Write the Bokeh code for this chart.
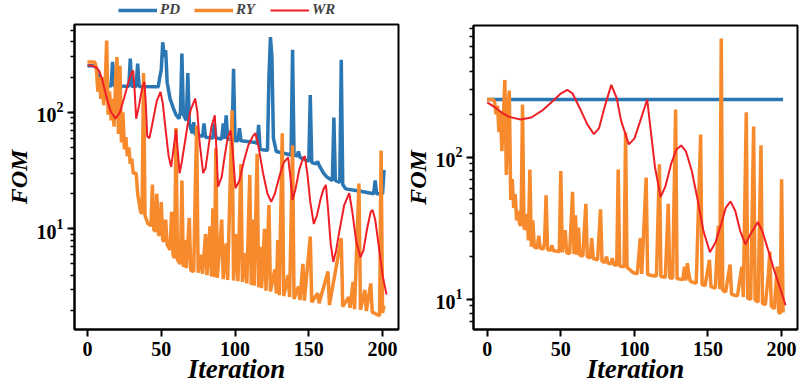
from bokeh.plotting import figure
from bokeh.models import Range1d, Legend, LegendItem, FixedTicker
from bokeh.layouts import row, column
from bokeh.embed import file_html
from bokeh.resources import INLINE

# ---------------- data ----------------
x_ticks = [0, 50, 100, 150, 200]
series_names = ["PD", "RY", "WR"]

# left panel
pd_l_x = [0, 5, 7, 9, 12, 13, 14, 16, 17, 18, 28, 29, 30, 33, 34, 35, 48, 49, 50, 51, 52, 53, 54, 56, 58,
          60, 62, 63, 64, 65, 67, 68, 69, 71, 72, 73, 74, 78, 79, 80, 85, 86, 87, 91, 92, 93, 94, 95, 98,
          99, 100, 102, 103, 104, 114, 115, 116, 117, 122, 123, 124, 125, 126, 128, 138, 139, 140, 142,
          143, 144, 150, 151, 152, 155, 156, 157, 160, 161, 162, 166, 167, 168, 171, 172, 173, 175, 185,
          194, 195, 196, 200, 201]
pd_l_y = [250, 250, 225, 170, 168, 185, 168, 168, 270, 168, 167, 288, 167, 166, 261, 166, 165, 200, 230,
          398, 300, 340, 180, 130, 110, 95, 88, 100, 318, 95, 85, 217, 80, 66, 82, 65, 64, 62, 80, 61,
          60, 80, 60, 59, 80, 59, 94, 59, 58, 236, 57, 57, 73, 57, 55, 54, 78, 48, 47, 200, 440, 300, 60,
          46, 43, 343, 43, 42, 46, 41, 38, 140, 37, 36, 38, 35, 30, 29, 28, 26, 90, 26, 25, 282, 24, 22,
          21, 20, 26, 20, 20, 32]

ry_l_x = [0, 5, 6, 7, 8, 9, 10, 11, 12, 13, 14, 15, 16, 17, 18, 19, 20, 21, 22, 23, 24, 25, 26, 27, 28,
          29, 30, 31, 33, 34, 36, 37, 38, 39, 41, 42, 43, 44, 45, 46, 47, 48, 49, 50, 51, 52, 53, 54, 56,
          57, 58, 59, 60, 61, 63, 64, 65, 66, 67, 69, 70, 72, 73, 74, 75, 77, 78, 80, 81, 83, 84, 85, 86,
          87, 88, 91, 92, 94, 95, 98, 99, 101, 102, 104, 105, 107, 108, 110, 111, 112, 113, 115, 116,
          117, 118, 120, 121, 123, 124, 127, 128, 129, 130, 132, 133, 136, 137, 139, 140, 143, 144, 146,
          147, 151, 152, 156, 157, 163, 164, 172, 173, 177, 178, 180, 181, 184, 185, 188, 189, 192, 193,
          196, 198, 199, 200, 201]
ry_l_y = [269, 269, 240, 150, 200, 130, 200, 115, 170, 412, 95, 150, 85, 130, 75, 180, 297, 65, 250, 55,
          100, 48, 61, 42, 50, 36, 40, 30, 30, 20, 14, 13.5, 217, 13, 11, 11, 10.5, 24, 9.8, 9.5, 20, 9,
          8.8, 17, 8, 7.8, 12, 7.3, 6.6, 14, 6, 5.6, 73, 5.4, 5, 26, 4.7, 8, 4.6, 12.4, 4.4, 4.3, 20, 77,
          4.2, 6, 4.1, 9, 4.0, 10.5, 3.9, 15, 3.85, 49, 3.8, 12, 3.7, 7.5, 3.65, 104, 3.6, 9, 3.55, 36,
          3.5, 6.2, 3.4, 29, 3.3, 12, 3.25, 44, 3.15, 7, 3.1, 10, 2.95, 16, 2.9, 4.5, 2.8, 8, 2.7, 66,
          2.65, 4, 2.6, 52, 2.5, 3.2, 2.45, 5, 2.42, 8.6, 2.35, 2.8, 2.3, 4.3, 2.22, 8.3, 2.15, 2.6, 2.1,
          3.5, 2.05, 24.5, 2.02, 3, 1.98, 3.4, 1.93, 1.85, 1.8, 47, 1.9, 2.2]

wr_l_x = [0, 3, 6, 8, 10, 12, 14, 16, 19, 22, 25, 28, 30, 31, 32, 33, 35, 37, 38.6, 39.5, 40.5, 42, 44,
          47, 49.5, 51, 53, 55, 56.7, 58.5, 60, 61, 62.4, 64, 66, 68, 70, 73, 74.5, 76, 78.4, 80, 82, 84,
          86.3, 87.3, 88.5, 91, 93, 95, 97, 98.5, 100.3, 103, 106, 109, 112, 113.8, 116, 119, 122, 124.5,
          127, 130, 133, 136, 137.5, 139, 141, 143.5, 146, 147.3, 149, 151, 153.4, 155.5, 158, 160, 161.6,
          163, 164.8, 166.6, 168.5, 171, 174, 177.4, 179.5, 182, 185, 187, 189.5, 192, 193.2, 195, 197.5,
          200, 202.7]
wr_l_y = [252, 250, 242, 225, 190, 150, 120, 100, 88, 100, 135, 185, 220, 228, 150, 88, 115, 160, 182,
          120, 62, 60, 80, 125, 149, 120, 70, 42, 34, 50, 71, 50, 30, 38, 55, 80, 105, 131, 100, 55, 30,
          33, 50, 75, 94, 50, 23, 28, 42, 60, 70, 45, 22.3, 26, 38, 52, 62, 66, 50, 30, 20, 17, 20, 28,
          37, 41, 28, 17.7, 22, 32, 40, 42, 30, 17, 11, 13, 18, 22, 23.8, 15, 7.5, 5.2, 6.5, 10, 16, 20.2,
          14, 8, 5.7, 6.5, 10, 14, 14.5, 12, 7, 4, 2.73]

# right panel
pd_r_x = [0, 201]
pd_r_y = [254, 254]

ry_r_x = [0, 4, 5, 6, 7, 8, 9, 10, 11, 12, 13, 14, 15, 16, 17, 18, 19, 20, 21, 22, 23, 24, 25, 26, 27,
          28, 29, 30, 31, 32, 34, 35, 36, 38, 39, 40, 41, 43, 44, 45, 48, 49, 50, 51, 53, 54, 56, 58, 59,
          60, 61, 62, 63, 65, 67, 68, 70, 71, 72, 75, 77, 78, 80, 81, 82, 84, 85, 86, 88, 89, 90, 91, 93,
          94, 95, 96, 98, 100, 102, 104, 105, 108, 109, 111, 113, 115, 117, 118, 121, 123, 124, 126, 128,
          129, 131, 133, 134, 135, 136, 137, 138, 140, 142, 145, 146, 148, 151, 152, 155, 157, 158, 159,
          160, 162, 165, 166, 168, 170, 173, 174, 176, 177, 179, 181, 182, 184, 186, 187, 189, 191, 192,
          193, 195, 197, 198, 199, 200, 201]
ry_r_y = [254, 254, 245, 200, 230, 150, 210, 110, 190, 349, 75, 200, 294, 50, 70, 44, 55, 36, 42, 34,
          33, 234, 32, 31, 40, 26, 82, 23.5, 36, 23.3, 23, 28, 23, 22.6, 25, 54, 22.4, 22.2, 24, 22, 21.8,
          21.6, 80, 21.5, 30.7, 21.3, 21, 57, 20.8, 39, 20.6, 32, 20.4, 20.2, 47, 20, 19.6, 27, 19.4, 19,
          43, 18.6, 18.2, 20, 18, 17.8, 19.5, 17.6, 17.4, 82, 17.2, 17.1, 17, 149, 16.8, 16.5, 15.8, 15.3,
          15.2, 27, 15.1, 72, 15, 14.8, 14.7, 14.6, 89, 14.5, 14.3, 47, 14.2, 14.1, 216, 14, 13.9, 13.8,
          17, 13.6, 18, 15, 13.4, 13.2, 13, 144, 12.7, 12.5, 19, 12.3, 12, 33, 11.8, 681, 11.6, 11.3, 17.6,
          10.9, 10.7, 10.6, 17, 10.4, 207, 10.2, 10, 164, 9.9, 9.6, 121, 9.4, 9.2, 15, 21.7, 9, 8.6, 17,
          8.2, 7.9, 70, 8.1]

wr_r_x = [0, 5, 10, 15, 22.6, 30, 38, 45, 50, 54.4, 58, 63, 68, 72.5, 76, 80, 84.3, 88, 91, 96.2, 100,
          104, 108.7, 111, 114, 117.8, 121, 125, 128.5, 131.8, 135, 139, 143, 147, 151.3, 155, 159, 162,
          165.3, 168.5, 172, 175.5, 179, 183.9, 187, 191, 195, 199, 202.7]
wr_r_y = [243, 225, 205, 192, 184, 190, 215, 250, 280, 297, 280, 220, 170, 145, 160, 230, 322, 260, 180,
          123, 135, 180, 254, 157, 85, 52.5, 62, 90, 113, 121, 110, 80, 50, 30, 21.5, 25, 34, 44, 48.9,
          42, 30, 24.4, 29, 35, 30, 22, 16, 12, 9.1]

# ---------------- styling ----------------
C_PD = "#2a77b4"
C_RY = "#f68a2c"
C_WR = "#ee1f26"
FONT = "Liberation Serif"
FIG_H = 386
LEG_H = 22
W_PD, W_RY, W_WR = 3.5, 3.5, 2


def make_fig(x_rng, y_rng, width, height, bl, br, bt, bb):
    p = figure(width=width, height=height, x_range=Range1d(*x_rng), y_range=Range1d(*y_rng),
               y_axis_type="log", output_backend="svg", toolbar_location=None,
               min_border_left=bl, min_border_right=br, min_border_top=bt, min_border_bottom=bb)
    p.xgrid.visible = False
    p.ygrid.visible = False
    p.outline_line_color = "black"
    p.outline_line_width = 2
    p.background_fill_color = "white"
    p.border_fill_color = "white"

    p.xaxis.ticker = FixedTicker(ticks=x_ticks)
    p.xaxis.minor_tick_line_color = None
    for ax in (p.xaxis, p.yaxis):
        ax.axis_line_width = 2
        ax.axis_line_color = "black"
        ax.major_tick_line_width = 2
        ax.major_tick_in = 0
        ax.major_tick_out = 7
        ax.major_label_text_font = FONT
        ax.major_label_text_font_style = "bold"
        ax.major_label_text_font_size = "20px"
        ax.major_label_text_color = "black"
        ax.axis_label_text_font = FONT
        ax.axis_label_text_font_style = "bold italic"
        ax.axis_label_text_color = "black"
    p.yaxis.minor_tick_line_width = 1.5
    p.yaxis.minor_tick_in = 0
    p.yaxis.minor_tick_out = 4
    p.xaxis.axis_label = "Iteration"
    p.xaxis.axis_label_text_font_size = "27px"
    p.xaxis.major_label_standoff = 5
    p.xaxis.axis_label_standoff = -5
    p.yaxis.axis_label = "FOM"
    p.yaxis.axis_label_text_font_size = "24px"
    p.yaxis.major_label_standoff = 4
    p.yaxis.axis_label_standoff = 2
    return p


# legend strip above the left panel (series drawn outside its visible range,
# only their legend glyphs show)
leg_fig = figure(width=400, height=LEG_H, x_range=Range1d(-8.8, 210.8), y_range=Range1d(-2, -1),
                 output_backend="svg", toolbar_location=None,
                 x_axis_location=None, y_axis_location=None, min_border=0)
leg_fig.xgrid.visible = False
leg_fig.ygrid.visible = False
leg_fig.outline_line_color = None
lg_pd = leg_fig.line(pd_l_x, pd_l_y, line_color=C_PD, line_width=W_PD)
lg_ry = leg_fig.line(ry_l_x, ry_l_y, line_color=C_RY, line_width=W_RY)
lg_wr = leg_fig.line(wr_l_x, wr_l_y, line_color=C_WR, line_width=W_WR)
legend = Legend(items=[LegendItem(label=series_names[0], renderers=[lg_pd]),
                       LegendItem(label=series_names[1], renderers=[lg_ry]),
                       LegendItem(label=series_names[2], renderers=[lg_wr])],
                orientation="horizontal", location=(44, 4))
legend.label_text_font = FONT
legend.label_text_font_style = "bold italic"
legend.label_text_font_size = "15px"
legend.glyph_width = 39
legend.glyph_height = 14
legend.label_height = 14
legend.label_standoff = 3
legend.spacing = 14
legend.padding = 0
legend.margin = 0
legend.border_line_color = None
legend.background_fill_alpha = 0
leg_fig.add_layout(legend)

left = make_fig((-8.8, 210.8), (1.37, 565), 400, FIG_H - LEG_H, 74, 2, 2, 56)
left.line(pd_l_x, pd_l_y, line_color=C_PD, line_width=W_PD)
left.line(ry_l_x, ry_l_y, line_color=C_RY, line_width=W_RY)
left.line(wr_l_x, wr_l_y, line_color=C_WR, line_width=W_WR)

right = make_fig((-9.3, 210.8), (6.15, 842), 400, FIG_H, 73, 3, 25, 54)
right.line(pd_r_x, pd_r_y, line_color=C_PD, line_width=W_PD)
right.line(ry_r_x, ry_r_y, line_color=C_RY, line_width=W_RY)
right.line(wr_r_x, wr_r_y, line_color=C_WR, line_width=W_WR)

layout = row(column(leg_fig, left, spacing=0), right, spacing=0)
open("out.html", "w").write(file_html(layout, INLINE))
